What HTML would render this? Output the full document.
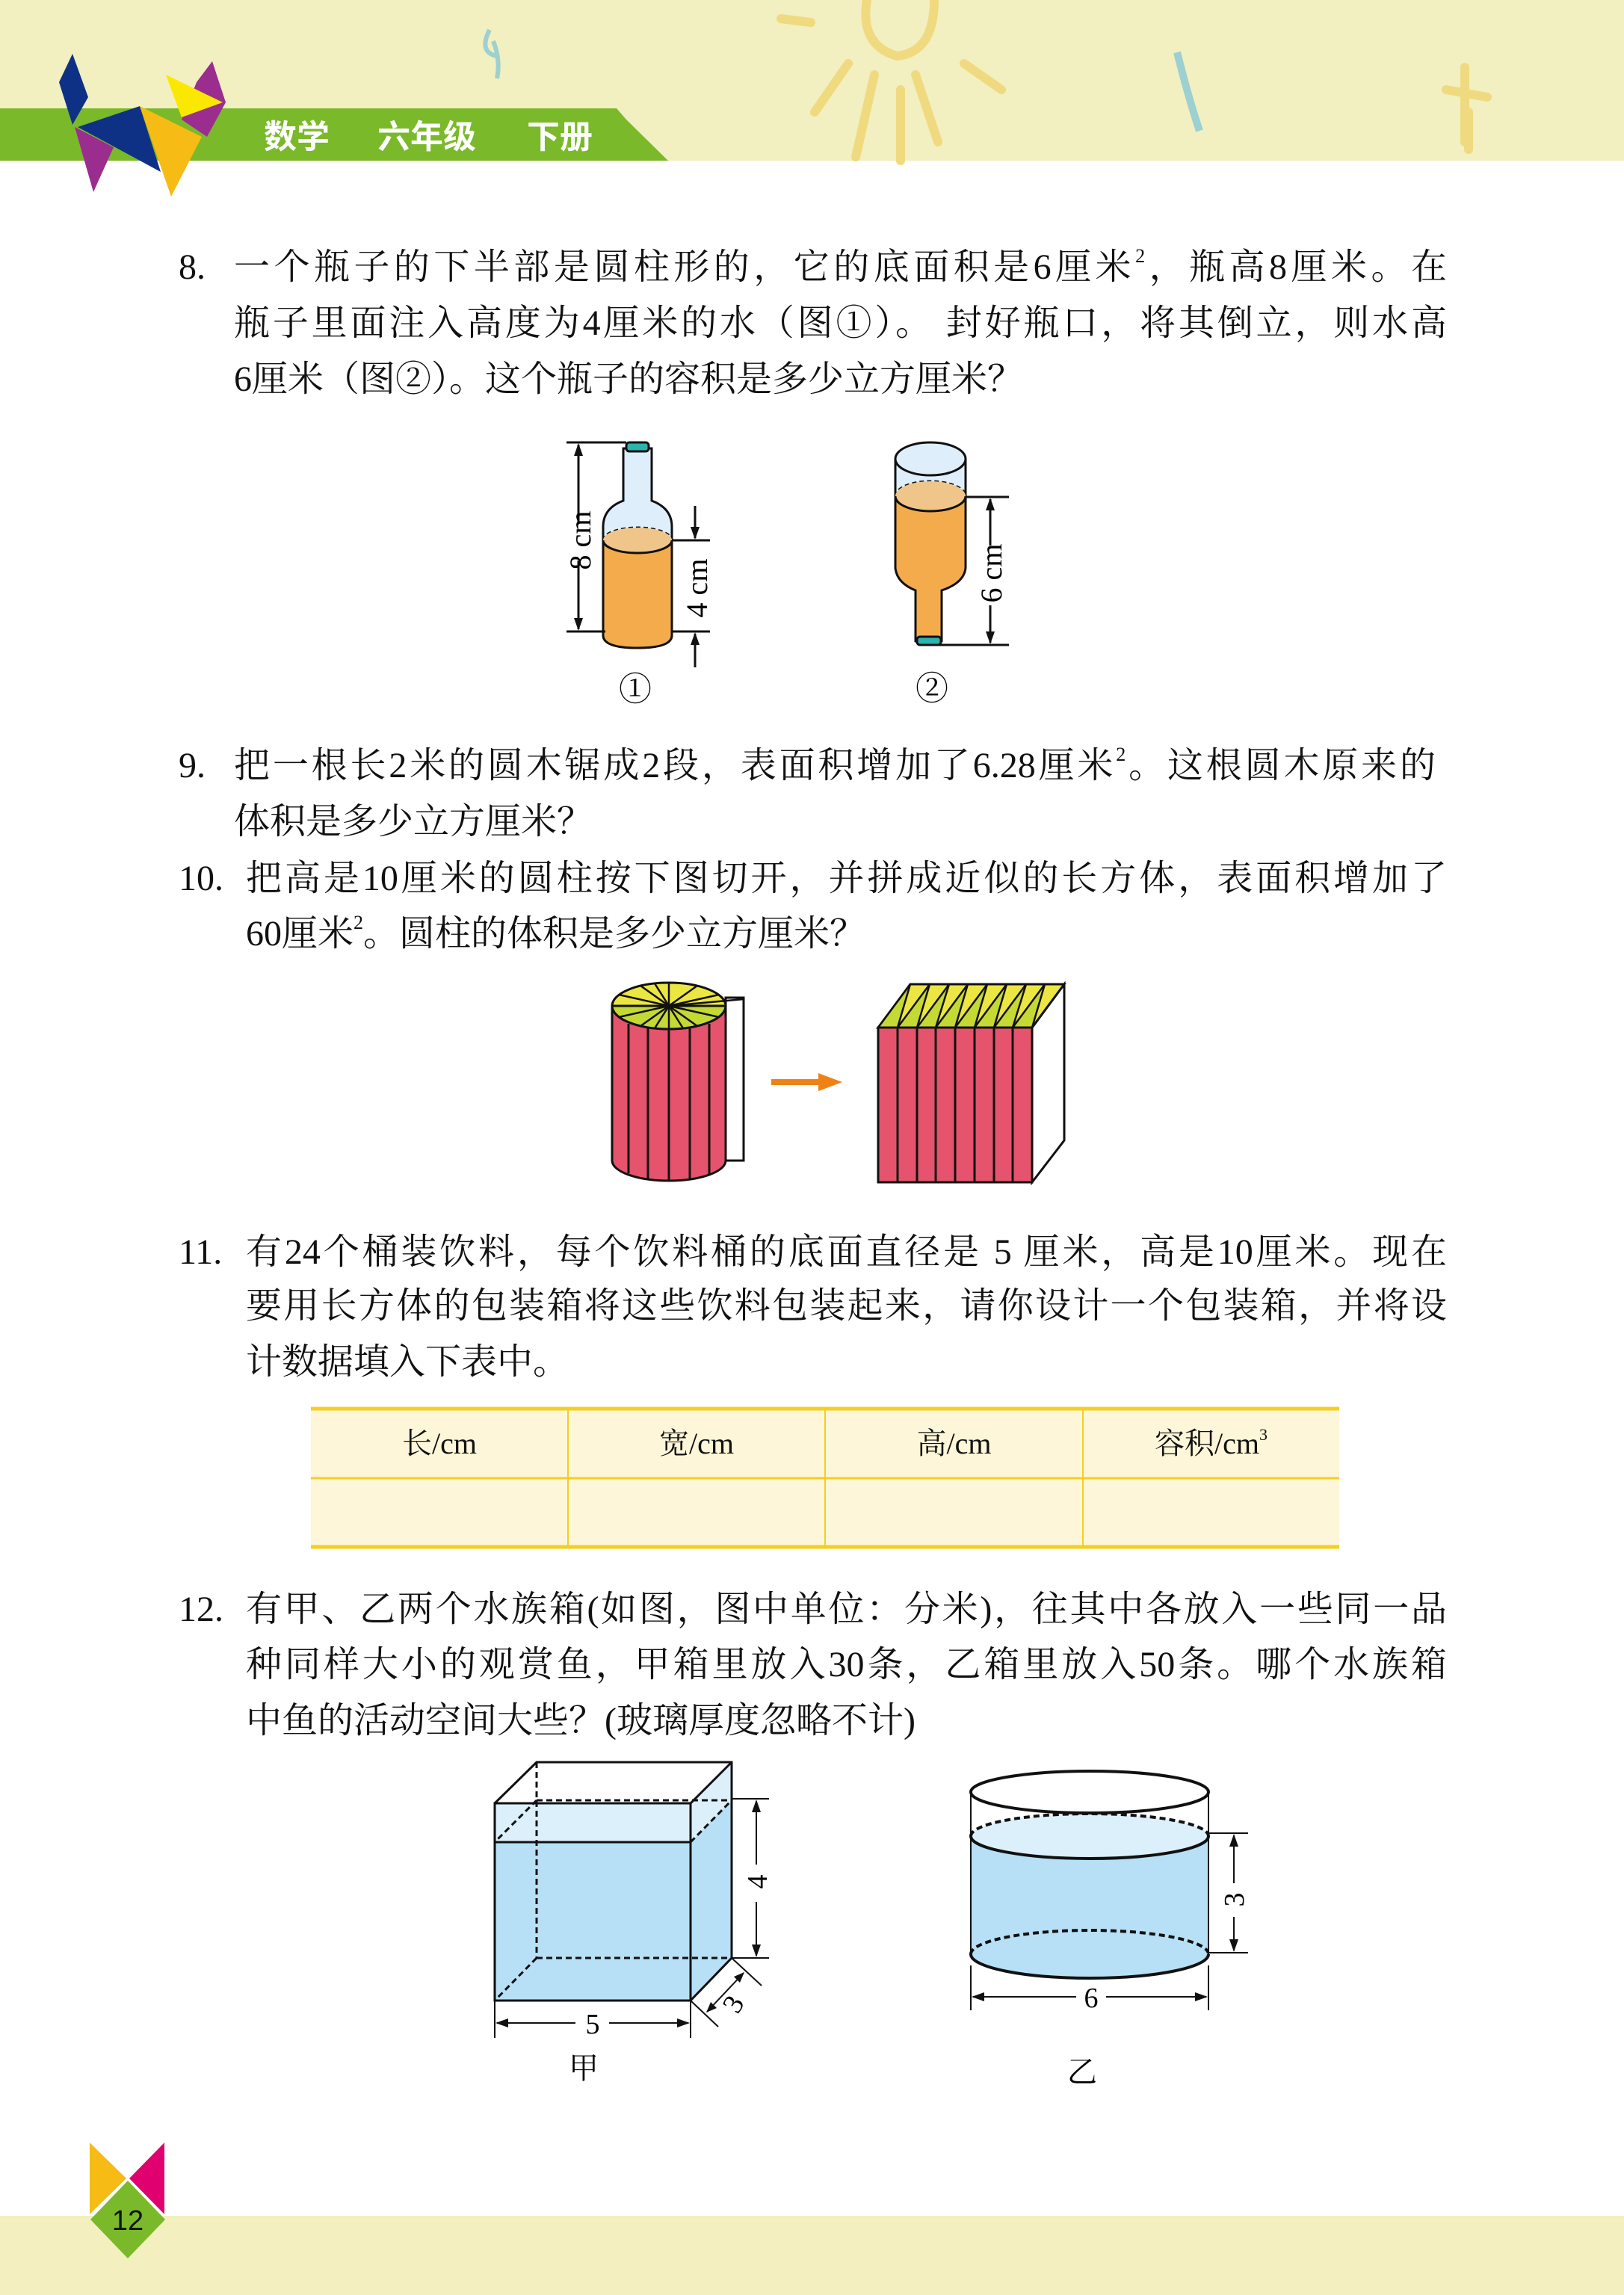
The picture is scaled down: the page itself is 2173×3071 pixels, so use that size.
<!DOCTYPE html>
<html><head><meta charset="utf-8">
<style>
body{margin:0;padding:0;}
#p{position:relative;width:2173px;height:3071px;background:#fff;overflow:hidden;font-family:"Liberation Serif","Noto Serif CJK SC",serif;color:#111;}
.l{position:absolute;font-size:48px;line-height:60px;white-space:nowrap;}
.j{text-align:justify;text-align-last:justify;}
.n{position:absolute;font-size:48px;line-height:60px;}
sup{font-size:26px;line-height:0;vertical-align:22px;}
.th{position:absolute;top:1902px;height:60px;line-height:60px;font-size:40px;text-align:center;}
svg{position:absolute;left:0;top:0;}
</style></head><body><div id="p">
<svg width="2173" height="3071" viewBox="0 0 2173 3071">
<!-- header -->
<rect x="0" y="0" width="2173" height="215" fill="#f2efc0"/>
<g fill="none" stroke="#f0da80" stroke-width="12" stroke-linecap="round">
<path d="M1160 0 Q1150 60 1200 75 Q1250 70 1250 0"/>
<path d="M1135 85 L1090 150"/>
<path d="M1290 85 L1340 120"/>
<path d="M1170 100 L1145 210"/>
<path d="M1205 120 L1205 215"/>
<path d="M1225 100 L1255 190"/>
<path d="M1045 25 L1085 30"/>
<path d="M1960 90 L1960 190 M1935 120 L1990 130 M1965 150 L1965 200"/>
</g>
<path d="M1575 70 Q1590 130 1605 175" stroke="#9dd0d0" stroke-width="10" fill="none"/>
<path d="M655 40 Q640 70 665 75 M660 55 Q670 80 665 105" stroke="#9dd0d0" stroke-width="6" fill="none"/>
<polygon points="0,145 825,145 838,160 894,215 0,215" fill="#7ab929"/>
<text x="353" y="198" font-family="Liberation Sans,'Noto Sans CJK SC',sans-serif" font-weight="bold" font-size="44" fill="#fff">数学</text>
<text x="505" y="198" font-family="Liberation Sans,'Noto Sans CJK SC',sans-serif" font-weight="bold" font-size="44" fill="#fff">六年级</text>
<text x="705" y="198" font-family="Liberation Sans,'Noto Sans CJK SC',sans-serif" font-weight="bold" font-size="44" fill="#fff">下册</text>
<polygon points="97,72 118,130 97,167 79,110" fill="#0e3186"/>
<polygon points="284,82 302,137 277,183 243,160 263,110" fill="#9a2d8e"/>
<polygon points="222,100 298,137 243,157" fill="#fbe800"/>
<polygon points="187,142 104,170 215,230" fill="#0e3186"/>
<polygon points="100,170 152,197 125,257" fill="#9a2d8e"/>
<polygon points="187,142 270,183 229,263" fill="#f6bb14"/>

<!-- bottles -->
<g stroke="#111" stroke-width="3">
<path d="M834 600 L834 670 Q807 680 807 705 L807 850 Q807 867 853 867 Q899 867 899 850 L899 705 Q899 680 872 670 L872 600 Z" fill="#deeefa"/>
<path d="M807 723 L807 850 Q807 867 853 867 Q899 867 899 850 L899 723 Z" fill="#f3ab4c" stroke="none"/>
<path d="M807 723 L807 850 Q807 867 853 867 Q899 867 899 850 L899 723" fill="none"/>
<path d="M807 723 A46 17 0 0 1 899 723" fill="none" stroke-dasharray="6,4"/>
<ellipse cx="853" cy="723" rx="46" ry="17" fill="#f0c589" stroke="none"/>
<path d="M807 723 A46 17 0 0 0 899 723" fill="none"/>
<rect x="838" y="592" width="30" height="12" rx="4" fill="#2bb3b0"/>
<line x1="758" y1="592" x2="838" y2="592"/>
<line x1="758" y1="845" x2="810" y2="845"/>
<line x1="774" y1="595" x2="774" y2="700"/><line x1="774" y1="750" x2="774" y2="842"/>
<line x1="899" y1="723" x2="950" y2="723"/>
<line x1="899" y1="845" x2="950" y2="845"/>
<line x1="930" y1="677" x2="930" y2="720"/>
<line x1="930" y1="848" x2="930" y2="893"/>
</g>
<g fill="#111">
<polygon points="774,593 768,610 780,610"/><polygon points="774,844 768,827 780,827"/>
<polygon points="930,722 924,705 936,705"/><polygon points="930,846 924,863 936,863"/>
</g>
<text transform="translate(790,723) rotate(-90)" text-anchor="middle" font-size="40" font-family="Liberation Serif,serif">8 cm</text>
<text transform="translate(946,787) rotate(-90)" text-anchor="middle" font-size="40" font-family="Liberation Serif,serif">4 cm</text>
<text x="850" y="937" text-anchor="middle" font-size="44" font-family="Liberation Serif,'Noto Serif CJK SC',serif">①</text>
<g stroke="#111" stroke-width="3">
<path d="M1198 614 L1198 760 Q1200 780 1225 790 L1225 858 Q1242 866 1260 858 L1260 790 Q1290 780 1292 760 L1292 614" fill="#f3ab4c"/>
<path d="M1198 614 L1198 664 L1292 664 L1292 614" fill="#deeefa" stroke="none"/>
<path d="M1198 614 L1198 664 M1292 614 L1292 664" fill="none"/>
<ellipse cx="1245" cy="614" rx="47" ry="22" fill="#deeefa"/>
<path d="M1198 664 A47 20 0 0 1 1292 664" fill="none" stroke-dasharray="6,4"/>
<ellipse cx="1245" cy="664" rx="47" ry="20" fill="#f0c589" stroke="none"/>
<path d="M1198 664 A47 20 0 0 0 1292 664" fill="none"/>
<rect x="1227" y="852" width="32" height="11" rx="4" fill="#2bb3b0"/>
<line x1="1292" y1="665" x2="1350" y2="665"/>
<line x1="1255" y1="863" x2="1350" y2="863"/>
<line x1="1325" y1="668" x2="1325" y2="730"/><line x1="1325" y1="810" x2="1325" y2="860"/>
</g>
<g fill="#111"><polygon points="1325,666 1319,683 1331,683"/><polygon points="1325,862 1319,845 1331,845"/></g>
<text transform="translate(1340,767) rotate(-90)" text-anchor="middle" font-size="40" font-family="Liberation Serif,serif">6 cm</text>
<text x="1247" y="936" text-anchor="middle" font-size="44" font-family="Liberation Serif,'Noto Serif CJK SC',serif">②</text>

<!-- fig 10 -->
<g stroke="#111" stroke-width="3">
<rect x="971" y="1335" width="24" height="218" fill="#fff"/>
<path d="M819 1346 L819 1553 A76 27 0 0 0 971 1553 L971 1346 Z" fill="#e6536c"/>
<line x1="841" y1="1370" x2="841" y2="1570"/><line x1="867" y1="1375" x2="867" y2="1578"/>
<line x1="895" y1="1377" x2="895" y2="1580"/><line x1="923" y1="1375" x2="923" y2="1578"/>
<line x1="949" y1="1370" x2="949" y2="1572"/>
<ellipse cx="895" cy="1346" rx="76" ry="31" fill="#ece643"/>
<path d="M819 1346 A76 31 0 0 0 971 1346 Z" fill="#c5d934"/>
<g stroke-width="2.5">
<line x1="895" y1="1346" x2="895" y2="1315"/><line x1="895" y1="1346" x2="895" y2="1377"/>
<line x1="895" y1="1346" x2="819" y2="1346"/><line x1="895" y1="1346" x2="971" y2="1346"/>
<line x1="895" y1="1346" x2="857" y2="1319"/><line x1="895" y1="1346" x2="933" y2="1319"/>
<line x1="895" y1="1346" x2="857" y2="1373"/><line x1="895" y1="1346" x2="933" y2="1373"/>
<line x1="895" y1="1346" x2="828" y2="1331"/><line x1="895" y1="1346" x2="962" y2="1331"/>
<line x1="895" y1="1346" x2="828" y2="1361"/><line x1="895" y1="1346" x2="962" y2="1361"/>
<line x1="895" y1="1346" x2="876" y2="1316"/><line x1="895" y1="1346" x2="914" y2="1376"/>
<line x1="895" y1="1346" x2="876" y2="1376"/><line x1="895" y1="1346" x2="995" y2="1337"/>
</g>
</g>
<polygon points="1032,1444 1095,1444 1095,1436 1127,1448 1095,1460 1095,1452 1032,1452" fill="#ef8215"/>
<g stroke="#111" stroke-width="3">
<polygon points="1381,1375 1424,1317 1424,1526 1381,1582" fill="#fff"/>
<polygon points="1175,1375 1218,1317 1424,1317 1381,1375" fill="#ece643"/>
<g fill="#c5d934" stroke-width="2.5">
<polygon points="1175,1375 1218,1317 1201,1375"/><polygon points="1201,1375 1244,1317 1227,1375"/>
<polygon points="1227,1375 1270,1317 1252,1375"/><polygon points="1252,1375 1295,1317 1278,1375"/>
<polygon points="1278,1375 1321,1317 1304,1375"/><polygon points="1304,1375 1347,1317 1330,1375"/>
<polygon points="1330,1375 1373,1317 1355,1375"/><polygon points="1355,1375 1398,1317 1381,1375"/>
</g>
<rect x="1175" y="1375" width="206" height="207" fill="#e6536c"/>
<line x1="1201" y1="1375" x2="1201" y2="1582"/><line x1="1227" y1="1375" x2="1227" y2="1582"/>
<line x1="1252" y1="1375" x2="1252" y2="1582"/><line x1="1278" y1="1375" x2="1278" y2="1582"/>
<line x1="1304" y1="1375" x2="1304" y2="1582"/><line x1="1330" y1="1375" x2="1330" y2="1582"/>
<line x1="1355" y1="1375" x2="1355" y2="1582"/>
</g>

<!-- table -->
<rect x="416" y="1885" width="1376" height="187" fill="#fef6d8"/>
<g stroke="#f4cf22">
<line x1="416" y1="1885" x2="1792" y2="1885" stroke-width="5"/>
<line x1="416" y1="1978" x2="1792" y2="1978" stroke-width="3"/>
<line x1="416" y1="2070" x2="1792" y2="2070" stroke-width="5"/>
<line x1="760" y1="1885" x2="760" y2="2070" stroke-width="2"/>
<line x1="1104" y1="1885" x2="1104" y2="2070" stroke-width="2"/>
<line x1="1449" y1="1885" x2="1449" y2="2070" stroke-width="2"/>
</g>

<!-- fig 12 box -->
<g stroke="#111" stroke-width="3">
<polygon points="662,2465 718,2409 979,2409 979,2620 924,2677 662,2677" fill="#b7e0f6" stroke="none"/>
<polygon points="662,2413 718,2358 979,2358 979,2409 924,2465 662,2465" fill="#fff" stroke="none"/>
<polygon points="662,2413 924,2413 979,2358 979,2409 924,2465 662,2465" fill="#dcf0fb" stroke="none"/>
<rect x="662" y="2413" width="262" height="264" fill="none"/>
<line x1="662" y1="2465" x2="924" y2="2465"/>
<polyline points="662,2413 718,2358 979,2358 979,2620 924,2677" fill="none"/>
<line x1="924" y1="2413" x2="979" y2="2358"/>
<line x1="924" y1="2465" x2="979" y2="2409" stroke-dasharray="8,5"/>
<g stroke-dasharray="8,5"><line x1="718" y1="2409" x2="979" y2="2409"/><line x1="718" y1="2358" x2="718" y2="2620"/><line x1="718" y1="2620" x2="979" y2="2620"/><line x1="718" y1="2620" x2="662" y2="2677"/><line x1="718" y1="2409" x2="662" y2="2465"/></g>
<g stroke-width="2">
<line x1="979" y1="2407" x2="1029" y2="2407"/><line x1="979" y1="2620" x2="1029" y2="2620"/>
<line x1="1012" y1="2410" x2="1012" y2="2495"/><line x1="1012" y1="2545" x2="1012" y2="2617"/>
<line x1="979" y1="2620" x2="1019" y2="2657"/><line x1="924" y1="2677" x2="961" y2="2712"/>
<line x1="995" y1="2640" x2="946" y2="2692"/>
<line x1="662" y1="2677" x2="662" y2="2727"/><line x1="924" y1="2677" x2="924" y2="2727"/>
<line x1="665" y1="2707" x2="770" y2="2707"/><line x1="815" y1="2707" x2="921" y2="2707"/>
</g>
</g>
<g fill="#111">
<polygon points="1012,2408 1006,2425 1018,2425"/><polygon points="1012,2619 1006,2602 1018,2602"/>
<polygon points="663,2707 680,2701 680,2713"/><polygon points="923,2707 906,2701 906,2713"/>
<polygon points="996,2639 982,2645 990,2653"/><polygon points="945,2693 951,2679 959,2687"/>
</g>
<text transform="translate(1026,2518) rotate(-90)" text-anchor="middle" font-size="38" font-family="Liberation Serif,serif">4</text>
<text transform="translate(992,2688) rotate(-60)" text-anchor="middle" font-size="38" font-family="Liberation Serif,serif">3</text>
<text x="793" y="2721" text-anchor="middle" font-size="38" font-family="Liberation Serif,serif">5</text>
<text x="781" y="2781" text-anchor="middle" font-size="40" font-family="Liberation Serif,'Noto Serif CJK SC',serif">甲</text>

<!-- fig 12 cylinder -->
<g stroke="#111" stroke-width="3">
<path d="M1299 2457 L1299 2615 A159 32 0 0 0 1617 2615 L1617 2457 Z" fill="#b7e0f6" stroke="none"/>
<path d="M1299 2398 L1299 2457 L1617 2457 L1617 2398 Z" fill="#fff" stroke="none"/>
<ellipse cx="1458" cy="2457" rx="159" ry="30" fill="#dcf0fb" stroke="none"/>
<ellipse cx="1458" cy="2615" rx="159" ry="32" fill="#b7e0f6" stroke="none"/>
<line x1="1299" y1="2398" x2="1299" y2="2615" stroke-width="2"/>
<line x1="1617" y1="2398" x2="1617" y2="2615" stroke-width="2"/>
<ellipse cx="1458" cy="2398" rx="159" ry="28" fill="#fff" stroke-width="4"/>
<path d="M1299 2457 A159 30 0 0 1 1617 2457" fill="none" stroke-dasharray="8,5" stroke-width="4"/>
<path d="M1299 2457 A159 30 0 0 0 1617 2457" fill="none" stroke-width="4"/>
<path d="M1299 2615 A159 32 0 0 1 1617 2615" fill="none" stroke-dasharray="8,5" stroke-width="4"/>
<path d="M1299 2615 A159 32 0 0 0 1617 2615" fill="none" stroke-width="4"/>
<g stroke-width="2">
<line x1="1617" y1="2453" x2="1670" y2="2453"/><line x1="1617" y1="2613" x2="1670" y2="2613"/>
<line x1="1651" y1="2456" x2="1651" y2="2520"/><line x1="1651" y1="2565" x2="1651" y2="2610"/>
<line x1="1299" y1="2630" x2="1299" y2="2690"/><line x1="1617" y1="2630" x2="1617" y2="2690"/>
<line x1="1302" y1="2672" x2="1440" y2="2672"/><line x1="1480" y1="2672" x2="1614" y2="2672"/>
</g>
</g>
<g fill="#111">
<polygon points="1651,2454 1645,2471 1657,2471"/><polygon points="1651,2612 1645,2595 1657,2595"/>
<polygon points="1300,2672 1317,2666 1317,2678"/><polygon points="1616,2672 1599,2666 1599,2678"/>
</g>
<text transform="translate(1664,2542) rotate(-90)" text-anchor="middle" font-size="38" font-family="Liberation Serif,serif">3</text>
<text x="1460" y="2686" text-anchor="middle" font-size="38" font-family="Liberation Serif,serif">6</text>
<text x="1448" y="2786" text-anchor="middle" font-size="40" font-family="Liberation Serif,'Noto Serif CJK SC',serif">乙</text>

<!-- footer -->
<rect x="0" y="2965" width="2173" height="106" fill="#f3efbf"/>
<polygon points="120,2867 169,2915 120,2963" fill="#f6bb14"/>
<polygon points="220,2867 173,2915 220,2963" fill="#e1006f"/>
<polygon points="171,2918 221,2970 171,3022 121,2970" fill="#7ab929"/>
<text x="171" y="2984" text-anchor="middle" font-size="38" font-family="Liberation Sans,sans-serif" fill="#111">12</text>
</svg>

<div class="n" style="left:239px;top:328px">8.</div>
<div class="l j" style="left:313px;top:328px;width:1623px">一个瓶子的下半部是圆柱形的，它的底面积是6厘米<sup>2</sup>，瓶高8厘米。在</div>
<div class="l j" style="left:313px;top:403px;width:1623px">瓶子里面注入高度为4厘米的水（图①）。 封好瓶口，将其倒立，则水高</div>
<div class="l" style="left:313px;top:478px">6厘米（图②）。这个瓶子的容积是多少立方厘米？</div>

<div class="n" style="left:239px;top:995px">9.</div>
<div class="l j" style="left:313px;top:995px;width:1608px">把一根长2米的圆木锯成2段，表面积增加了6.28厘米<sup>2</sup>。这根圆木原来的</div>
<div class="l" style="left:313px;top:1070px">体积是多少立方厘米？</div>

<div class="n" style="left:239px;top:1146px">10.</div>
<div class="l j" style="left:329px;top:1146px;width:1607px">把高是10厘米的圆柱按下图切开，并拼成近似的长方体，表面积增加了</div>
<div class="l" style="left:329px;top:1220px">60厘米<sup>2</sup>。圆柱的体积是多少立方厘米？</div>

<div class="n" style="left:239px;top:1646px">11.</div>
<div class="l j" style="left:329px;top:1646px;width:1607px">有24个桶装饮料，每个饮料桶的底面直径是 5 厘米，高是10厘米。现在</div>
<div class="l j" style="left:329px;top:1718px;width:1607px">要用长方体的包装箱将这些饮料包装起来，请你设计一个包装箱，并将设</div>
<div class="l" style="left:329px;top:1793px">计数据填入下表中。</div>

<div class="th" style="left:416px;width:344px">长/cm</div>
<div class="th" style="left:760px;width:344px">宽/cm</div>
<div class="th" style="left:1104px;width:345px">高/cm</div>
<div class="th" style="left:1449px;width:343px">容积/cm<sup style="font-size:22px;vertical-align:18px">3</sup></div>

<div class="n" style="left:239px;top:2124px">12.</div>
<div class="l j" style="left:329px;top:2124px;width:1607px">有甲、乙两个水族箱(如图，图中单位：分米)，往其中各放入一些同一品</div>
<div class="l j" style="left:329px;top:2198px;width:1607px">种同样大小的观赏鱼，甲箱里放入30条，乙箱里放入50条。哪个水族箱</div>
<div class="l" style="left:329px;top:2273px">中鱼的活动空间大些？(玻璃厚度忽略不计)</div>
</div></body></html>
